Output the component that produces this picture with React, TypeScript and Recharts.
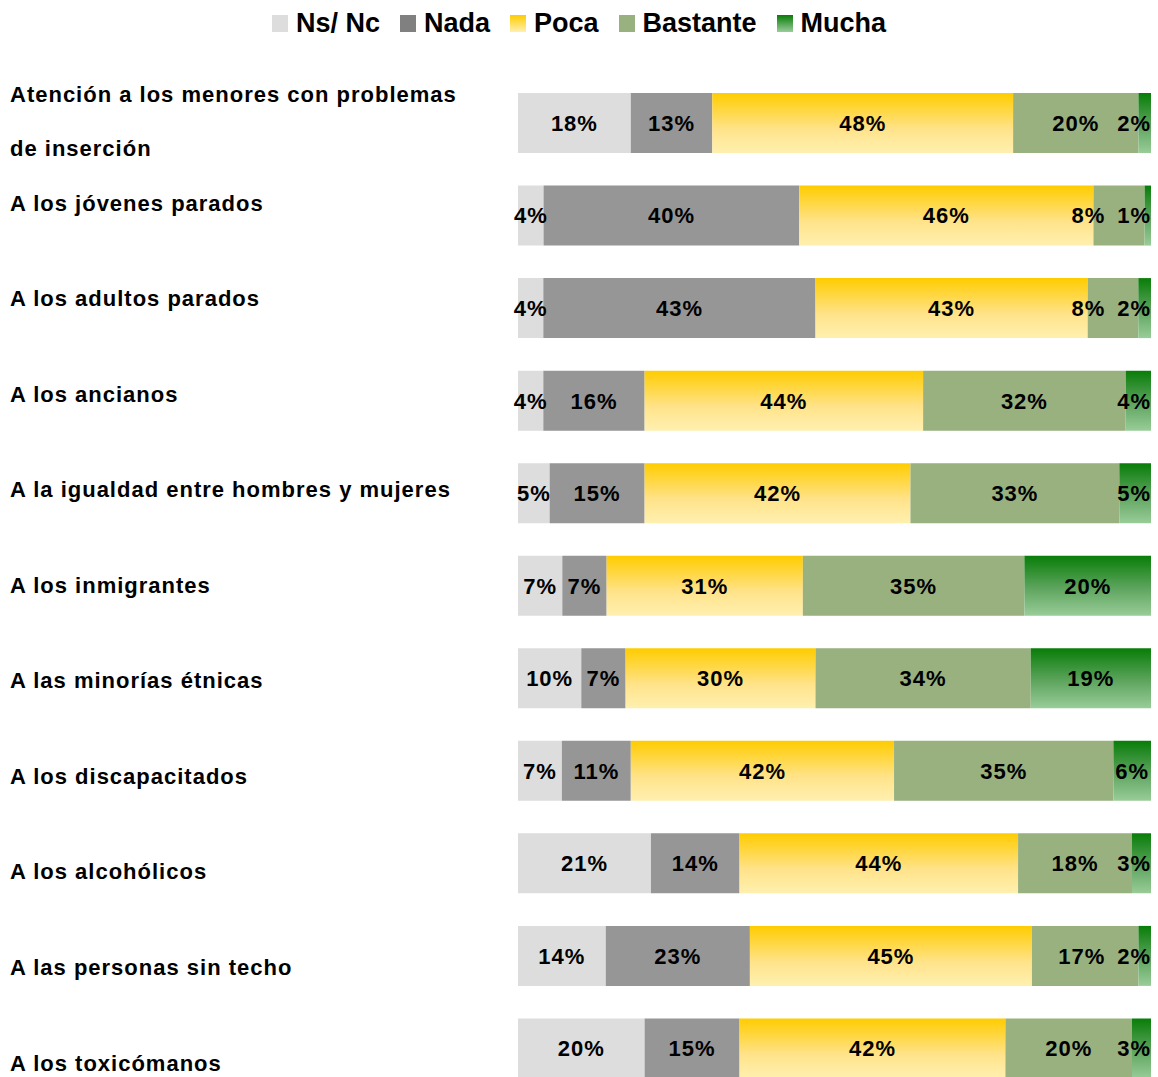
import React from "react";
import { BarChart, Bar, XAxis, YAxis, LabelList } from "recharts";

// Categories (left column) and the five answer series, in %
const categories = [
  "Atención a los menores con problemas\nde inserción",
  "A los jóvenes parados",
  "A los adultos parados",
  "A los ancianos",
  "A la igualdad entre hombres y mujeres",
  "A los inmigrantes",
  "A las minorías étnicas",
  "A los discapacitados",
  "A los alcohólicos",
  "A las personas sin techo",
  "A los toxicómanos",
];
const nsnc = [18, 4, 4, 4, 5, 7, 10, 7, 21, 14, 20];
const nada = [13, 40, 43, 16, 15, 7, 7, 11, 14, 23, 15];
const poca = [48, 46, 43, 44, 42, 31, 30, 42, 44, 45, 42];
const bastante = [20, 8, 8, 32, 33, 35, 34, 35, 18, 17, 20];
const mucha = [2, 1, 2, 4, 5, 20, 19, 6, 3, 2, 3];

const seriesNames = ["Ns/ Nc", "Nada", "Poca", "Bastante", "Mucha"];

const data = categories.map((name, i) => ({
  name,
  nsnc: nsnc[i],
  nada: nada[i],
  poca: poca[i],
  bastante: bastante[i],
  mucha: mucha[i],
}));

const FONT = "Arial, 'Liberation Sans', sans-serif";
const CHART_W = 1158;
const MARGIN_RIGHT = 7;
const PLOT_RIGHT = CHART_W - MARGIN_RIGHT;

// rough width of a bold 22px label like "48%" (with letter spacing)
const textW = (v: number) => String(v).length * 13.2 + 20.6;

const labelText = (cx: number, y: number, h: number, v: number) => (
  <text
    x={cx}
    y={y + h / 2}
    dy="0.36em"
    textAnchor="middle"
    fontFamily={FONT}
    fontWeight="bold"
    fontSize={22}
    letterSpacing={1}
    fill="#000"
  >
    {v}%
  </text>
);

const centerLabel = (props: any) => {
  const { x, y, width, height, value } = props;
  return labelText(x + width / 2, y, height, value);
};

const muchaCenter = (x: number, width: number, v: number) =>
  Math.min(x + width / 2, PLOT_RIGHT - textW(v) / 2);

const muchaLabel = (props: any) => {
  const { x, y, width, height, value } = props;
  return labelText(muchaCenter(x, width, value), y, height, value);
};

const bastanteLabel = (props: any) => {
  const { x, y, width, height, value, index } = props;
  const mx = x + width;
  const mv = mucha[index];
  const mLeft = muchaCenter(mx, PLOT_RIGHT - mx, mv) - textW(mv) / 2;
  const cx = Math.min(x + width / 2, mLeft - 12 - textW(value) / 2);
  return labelText(cx, y, height, value);
};

const tickTextProps = {
  x: 10,
  dy: "0.35em",
  fontFamily: FONT,
  fontWeight: "bold",
  fontSize: 22,
  letterSpacing: 1,
  fill: "#000",
};

const CategoryTick = (props: any) => {
  const { y, payload, index } = props;
  const lines = String(payload.value).split("\n");
  if (lines.length > 1) {
    return (
      <g>
        <text {...tickTextProps} y={y - 29}>
          {lines[0]}
        </text>
        <text {...tickTextProps} y={y + 25}>
          {lines[1]}
        </text>
      </g>
    );
  }
  const off = (index - 5.3) * 3;
  return (
    <text {...tickTextProps} y={y + off}>
      {lines[0]}
    </text>
  );
};

const legendSwatches = [
  "#DDDDDD",
  "#808080",
  "linear-gradient(#FFCC00, #FFF0B0)",
  "#99B17F",
  "linear-gradient(#087D08, #99CC99)",
];

function Legend() {
  return (
    <div
      style={{
        position: "absolute",
        top: 8,
        left: 0,
        width: CHART_W,
        display: "flex",
        justifyContent: "center",
        alignItems: "center",
        fontFamily: FONT,
        fontWeight: "bold",
        fontSize: 27,
        color: "#000",
      }}
    >
      {seriesNames.map((s, i) => (
        <div
          key={s}
          style={{ display: "flex", alignItems: "center", marginRight: i < seriesNames.length - 1 ? 20 : 0 }}
        >
          <span
            style={{
              display: "inline-block",
              width: 16,
              height: 17,
              background: legendSwatches[i],
              marginRight: 8,
            }}
          />
          <span>{s}</span>
        </div>
      ))}
    </div>
  );
}

export default function App() {
  return (
    <div style={{ position: "absolute", left: 0, top: 0, width: CHART_W, height: 1077, overflow: "hidden", background: "#fff" }}>
      <Legend />
      <BarChart
        width={CHART_W}
        height={1100}
        data={data}
        layout="vertical"
        stackOffset="expand"
        barSize={60}
        margin={{ top: 77, right: MARGIN_RIGHT, left: 0, bottom: 5 }}
      >
        <defs>
          <linearGradient id="gPoca" x1="0" y1="0" x2="0" y2="1">
            <stop offset="0%" stopColor="#FFCC00" />
            <stop offset="60%" stopColor="#FFE38A" />
            <stop offset="100%" stopColor="#FFF0B0" />
          </linearGradient>
          <linearGradient id="gMucha" x1="0" y1="0" x2="0" y2="1">
            <stop offset="0%" stopColor="#087D08" />
            <stop offset="55%" stopColor="#5FA55F" />
            <stop offset="100%" stopColor="#99CC99" />
          </linearGradient>
        </defs>
        <XAxis type="number" hide domain={[0, 1]} />
        <YAxis
          type="category"
          dataKey="name"
          width={518}
          axisLine={false}
          tickLine={false}
          tick={<CategoryTick />}
          interval={0}
        />
        <Bar dataKey="nsnc" stackId="a" fill="#DDDDDD" isAnimationActive={false}>
          <LabelList dataKey="nsnc" content={centerLabel} />
        </Bar>
        <Bar dataKey="nada" stackId="a" fill="#969696" isAnimationActive={false}>
          <LabelList dataKey="nada" content={centerLabel} />
        </Bar>
        <Bar dataKey="poca" stackId="a" fill="url(#gPoca)" isAnimationActive={false}>
          <LabelList dataKey="poca" content={centerLabel} />
        </Bar>
        <Bar dataKey="bastante" stackId="a" fill="#99B17F" isAnimationActive={false}>
          <LabelList dataKey="bastante" content={bastanteLabel} />
        </Bar>
        <Bar dataKey="mucha" stackId="a" fill="url(#gMucha)" isAnimationActive={false}>
          <LabelList dataKey="mucha" content={muchaLabel} />
        </Bar>
      </BarChart>
    </div>
  );
}
